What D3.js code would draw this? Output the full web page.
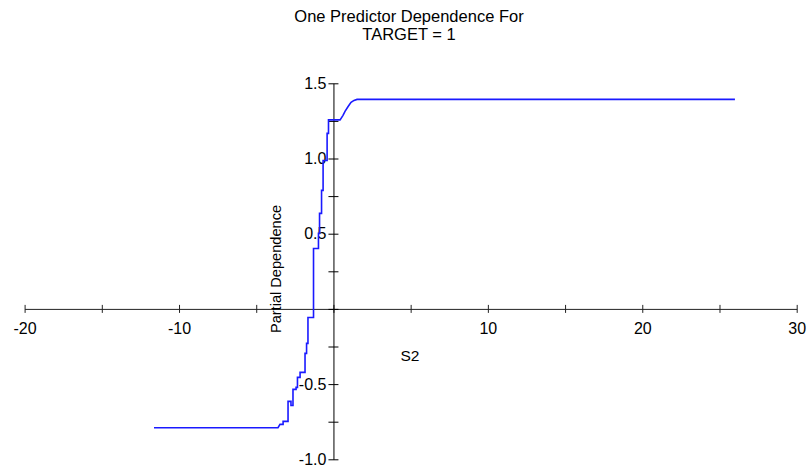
<!DOCTYPE html>
<html>
<head>
<meta charset="utf-8">
<script src="https://cdn.jsdelivr.net/npm/d3@7"></script>
<style>
  html, body { margin: 0; padding: 0; background: #fff; }
  svg { display: block; font-family: "Liberation Sans", Arial, sans-serif; }
</style>
</head>
<body>
<svg id="chart" width="811" height="472"></svg>
<script>
const titleLines = ["One Predictor Dependence For", "TARGET = 1"];
const xLabel = "S2";
const yLabel = "Partial Dependence";
const xDomain = [-20, 30];
const yDomain = [-1.0, 1.5];
const xTickValues = [-20, -15, -10, -5, 0, 5, 10, 15, 20, 25, 30];
const xTickLabels = ["-20", "", "-10", "", "", "", "10", "", "20", "", "30"];
const yTickValues = [-1.0, -0.75, -0.5, -0.25, 0, 0.25, 0.5, 0.75, 1.0, 1.25, 1.5];
const yTickLabels = ["-1.0", "", "-0.5", "", "", "", "0.5", "", "1.0", "", "1.5"];

// Partial dependence curve (S2 value, dependence)
const s2Values = [-11.62, -3.59, -3.46, -3.26, -3.26, -2.94, -2.94, -2.75, -2.75, -2.62, -2.62, -2.42, -2.42, -2.33, -2.33, -2.16, -2.16, -1.84, -1.84, -1.74, -1.74, -1.65, -1.65, -1.29, -1.29, -0.97, -0.97, -0.90, -0.90, -0.77, -0.77, -0.67, -0.67, -0.54, -0.54, -0.41, -0.41, -0.32, -0.32, 0.43, 0.62, 0.75, 0.95, 1.14, 1.33, 1.53, 26.0];
const pdValues = [-0.79, -0.79, -0.768, -0.768, -0.748, -0.748, -0.615, -0.615, -0.642, -0.642, -0.535, -0.535, -0.522, -0.522, -0.455, -0.455, -0.422, -0.422, -0.296, -0.296, -0.229, -0.229, -0.057, -0.057, 0.402, 0.402, 0.502, 0.502, 0.635, 0.635, 0.788, 0.788, 0.987, 0.987, 0.987, 0.987, 1.167, 1.167, 1.257, 1.257, 1.287, 1.313, 1.346, 1.373, 1.386, 1.393, 1.393];

const svg = d3.select("#chart");
const x = d3.scaleLinear().domain(xDomain).range([24.6, 796.7]);
const y = d3.scaleLinear().domain(yDomain).range([459.3, 83.3]);

svg.append("rect").attr("width", 811).attr("height", 472).attr("fill", "#fff");

// Title
svg.append("g").selectAll("text").data(titleLines).join("text")
  .attr("x", 409).attr("y", (d, i) => 21.5 + i * 18)
  .attr("text-anchor", "middle").attr("font-size", 16.5).attr("fill", "#000")
  .text(d => d);

// X axis through y=0
const xAxis = d3.axisBottom(x).tickValues(xTickValues)
  .tickFormat((d, i) => xTickLabels[i]).tickSizeInner(4).tickSizeOuter(0).tickPadding(10);
const gx = svg.append("g").attr("transform", `translate(0,${y(0)})`).call(xAxis);
gx.select(".domain").attr("stroke", "#222");
gx.selectAll(".tick line").attr("y1", -4).attr("y2", 4).attr("stroke", "#222");
gx.selectAll(".tick text").attr("font-size", 16).attr("fill", "#000").attr("font-family", "Liberation Sans, Arial, sans-serif");

// Y axis through x=0
const yAxis = d3.axisLeft(y).tickValues(yTickValues)
  .tickFormat((d, i) => yTickLabels[i]).tickSizeInner(5).tickSizeOuter(0).tickPadding(2);
const gy = svg.append("g").attr("transform", `translate(${x(0)},0)`).call(yAxis);
gy.select(".domain").attr("stroke", "#000");
gy.selectAll(".tick line").attr("x1", -5).attr("x2", 5).attr("stroke", "#000");
gy.selectAll(".tick text").attr("font-size", 16).attr("fill", "#000").attr("font-family", "Liberation Sans, Arial, sans-serif");

// Axis titles
svg.append("text").attr("x", 410).attr("y", 361).attr("text-anchor", "middle")
  .attr("font-size", 15.5).attr("fill", "#000").text(xLabel);
svg.append("text").attr("transform", "translate(281,269) rotate(-90)").attr("text-anchor", "middle")
  .attr("font-size", 14.6).attr("fill", "#000").text(yLabel);

// Curve
const pts = s2Values.map((v, i) => [v, pdValues[i]]);
svg.append("path").datum(pts)
  .attr("fill", "none").attr("stroke", "#1a1aff").attr("stroke-width", 1.6)
  .attr("d", d3.line().x(d => x(d[0])).y(d => y(d[1])));
</script>
</body>
</html>
